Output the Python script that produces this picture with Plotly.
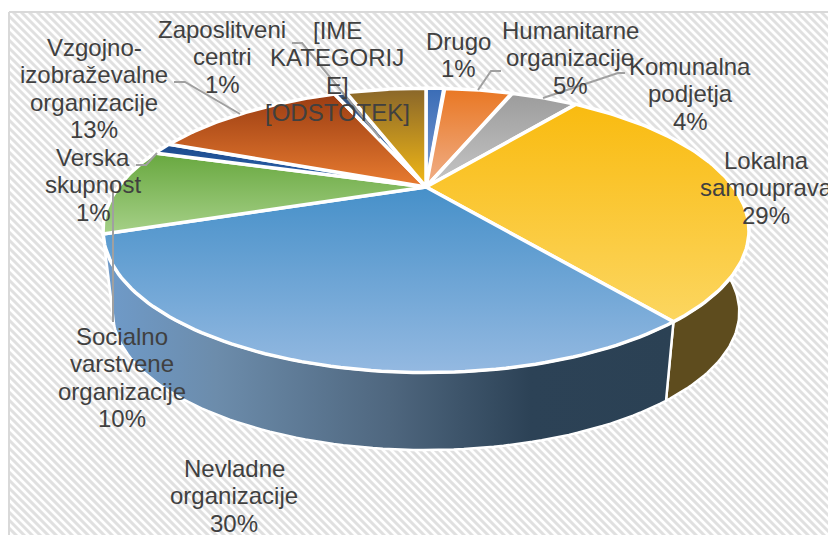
import math
import plotly.graph_objects as go

# ---- data (percent shares, clockwise from 12 o'clock)
categories = ["Drugo", "Humanitarne organizacije", "Komunalna podjetja", "Lokalna samouprava",
              "Nevladne organizacije", "Socialno varstvene organizacije", "Verska skupnost",
              "Vzgojno-izobraževalne organizacije", "Zaposlitveni centri", "[IME KATEGORIJE]"]
values = [1.2, 4.6, 4.5, 29.1, 30.0, 9.9, 1.4, 12.7, 0.8, 5.4]
top_colors = [("#3a6cb6", "#7f9fd4"), ("#e97723", "#f0b08a"), ("#9c9c9c", "#c6c6c6"), ("#f9bb10", "#fcd660"),
              ("#4690c9", "#94b9e1"), ("#68a83f", "#a6d088"), ("#1c4a8c", "#2f66b0"), ("#9a3c12", "#e97c30"),
              ("#33507a", "#4f80c0"), ("#89662a", "#f3b915")]
label_lines = [["Drugo", "1%"], ["Humanitarne", "organizacije", "5%"], ["Komunalna", "podjetja", "4%"],
               ["Lokalna", "samouprava", "29%"], ["Nevladne", "organizacije", "30%"],
               ["Socialno", "varstvene", "organizacije", "10%"], ["Verska", "skupnost", "1%"],
               ["Vzgojno-", "izobraževalne", "organizacije", "13%"], ["Zaposlitveni", "centri", "1%"],
               ["[IME", "KATEGORIJ", "E]", "[ODSTOTEK]"]]
label_pos = [(458, 41), (570, 30), (690, 66), (766, 160), (234, 468), (122, 336), (93, 157), (94, 47), (222, 29), (337, 30)]
leaders = [[(478, 90), (491, 71), (501, 71)], [(543, 98), (618, 73), (625, 73)], [(157, 153), (146, 165), (136, 165)],
           [(240, 114), (185, 82), (174, 82)], [(113, 183), (113, 322)], [(292, 43), (302, 43), (380, 138)]]

# ---- projection of the tilted disc onto the page
CX, CY = 426.0, 187.0
P, Q, C = 0.305, 129.0, 307.6
BOT_SCALE, BOT_CY = 0.97, 270.0
LINE_H = 27.6
FL, FT, FR, FB = 9, 12, 829, 536   # chart-area frame
STRIPE = 8


def rim(t, scale=1.0, cy=CY):
    d = 1 + P * math.cos(t)
    return CX + scale * C * math.sin(t) / d, cy - scale * Q * math.cos(t) / d


def arc(t0, t1, scale=1.0, cy=CY, n=80):
    pts = [rim(t0 + (t1 - t0) * i / n, scale, cy) for i in range(n + 1)]
    return [p[0] for p in pts], [p[1] for p in pts]


total = sum(values)
edges = [0.0]
for v in values:
    edges.append(edges[-1] + v / total * 2 * math.pi)

fig = go.Figure()

# striped chart-area background: 45-degree hatch clipped to the frame
sx, sy = [], []
for off in range(FL - (FB - FT), FR, STRIPE):
    x0, y0 = max(off, FL), FT + max(0, FL - off)
    run = min(FR - x0, FB - y0)
    if run > 0:
        sx += [x0, x0 + run, None]
        sy += [y0, y0 + run, None]
fig.add_trace(go.Scatter(x=sx, y=sy, mode="lines", line=dict(color="#e0e0e0", width=3), hoverinfo="skip"))
fig.add_trace(go.Scatter(x=[FL, FR, None, FL, FL], y=[FT, FT, None, FT, FB], mode="lines",
                         line=dict(color="#d9d9d9", width=2), hoverinfo="skip"))


def side(t0, t1, fill_kwargs):
    xa, ya = arc(t0, t1)
    xb, yb = arc(t1, t0, BOT_SCALE, BOT_CY)
    fig.add_trace(go.Scatter(x=xa + xb + [xa[0]], y=ya + yb + [ya[0]], mode="lines", fill="toself",
                             line=dict(color="#ffffff", width=2.5), hoverinfo="skip", **fill_kwargs))


# side walls of the visible front slices
side(edges[5], edges[5] + 0.10, dict(fillcolor="#5f93c6"))
side(math.radians(60), edges[4], dict(fillcolor="#5e4c1e"))
side(edges[4], edges[5], dict(fillgradient=dict(type="horizontal",
     colorscale=[[0, "#6f9bca"], [0.2, "#6c8cab"], [0.5, "#4f677f"], [0.75, "#2c4256"], [1, "#2b4154"]])))

# top faces
for i, (c_far, c_near) in enumerate(top_colors):
    xs, ys = arc(edges[i], edges[i + 1])
    fig.add_trace(go.Scatter(x=[CX] + xs + [CX], y=[CY] + ys + [CY], mode="lines", fill="toself",
                             name=categories[i], line=dict(color="#ffffff", width=3.5), hoverinfo="skip",
                             fillgradient=dict(type="vertical", colorscale=[[0, c_near], [1, c_far]])))

# leader lines
for pts in leaders:
    fig.add_trace(go.Scatter(x=[p[0] for p in pts], y=[p[1] for p in pts], mode="lines",
                             line=dict(color="#a0a0a0", width=2), hoverinfo="skip"))

# labels, one annotation per line to keep the tight line pitch
for lines, (x, y) in zip(label_lines, label_pos):
    for k, s in enumerate(lines):
        fig.add_annotation(x=x, y=y + k * LINE_H, text=s, showarrow=False, xanchor="center", yanchor="middle",
                           font=dict(family="Liberation Sans", size=24, color="#404040"))

fig.update_layout(width=828, height=535, margin=dict(l=0, r=0, t=0, b=0), showlegend=False,
                  paper_bgcolor="#ffffff", plot_bgcolor="rgba(0,0,0,0)",
                  xaxis=dict(range=[0, 828], visible=False, fixedrange=True),
                  yaxis=dict(range=[535, 0], visible=False, fixedrange=True))
fig.write_html("out.html", post_script="document.body.style.margin='0';document.body.style.overflow='hidden';",
               config=dict(displayModeBar=False))
